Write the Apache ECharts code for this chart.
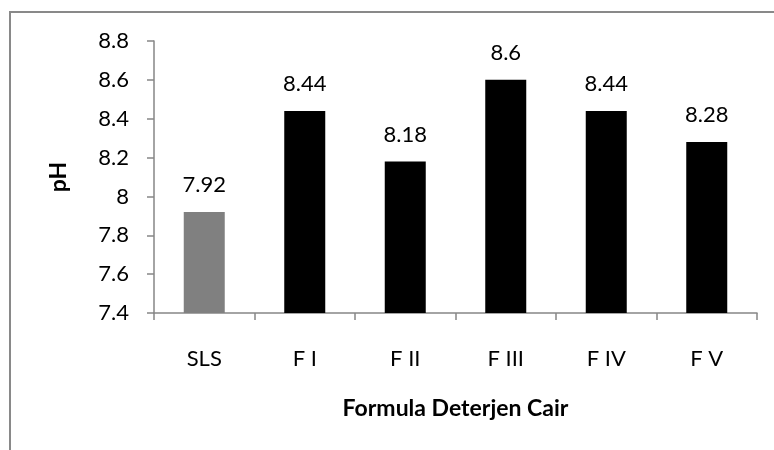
<!DOCTYPE html>
<html>
<head>
<meta charset="utf-8">
<script src="https://cdn.jsdelivr.net/npm/echarts@6/dist/echarts.min.js"></script>
<style>
html,body{margin:0;padding:0;background:#fff;}
#chart{width:774px;height:450px;}
</style>
</head>
<body>
<div id="chart"></div>
<script>
var categories = ['SLS', 'F I', 'F II', 'F III', 'F IV', 'F V'];
var phValues = [7.92, 8.44, 8.18, 8.6, 8.44, 8.28];
var barColors = ['#808080', '#000000', '#000000', '#000000', '#000000', '#000000'];
var yTitle = 'pH';
var xTitle = 'Formula Deterjen Cair';

var FONT = 'Lato, "Open Sans", sans-serif';
var chart = echarts.init(document.getElementById('chart'), null, {renderer: 'canvas'});
chart.setOption({
  backgroundColor: '#ffffff',
  animation: false,
  graphic: [{
    type: 'rect',
    shape: {x: 10, y: 12, width: 820, height: 500},
    style: {fill: 'none', stroke: '#898989', lineWidth: 2},
    silent: true
  }],
  grid: {left: 154, right: 17, top: 41, bottom: 137},
  xAxis: {
    type: 'category',
    data: categories,
    name: xTitle,
    nameLocation: 'middle',
    nameGap: 84,
    nameTextStyle: {fontFamily: FONT, fontSize: 23, fontWeight: 'bold', color: '#000'},
    axisLine: {lineStyle: {color: '#868686', width: 1.5}},
    axisTick: {show: true, length: 7, lineStyle: {color: '#868686', width: 1.5}},
    axisLabel: {fontFamily: FONT, fontSize: 22, color: '#000', margin: 35}
  },
  yAxis: {
    type: 'value',
    min: 7.4,
    max: 8.8,
    interval: 0.2,
    name: yTitle,
    nameLocation: 'middle',
    nameRotate: 90,
    nameGap: 84,
    nameTextStyle: {fontFamily: FONT, fontSize: 23, fontWeight: 'bold', color: '#000'},
    axisLine: {show: true, lineStyle: {color: '#868686', width: 1.5}},
    axisTick: {show: true, length: 7, lineStyle: {color: '#868686', width: 1.5}},
    splitLine: {show: false},
    axisLabel: {fontFamily: FONT, fontSize: 22, color: '#000', margin: 25,
      formatter: function (v) { return String(+v.toFixed(1)); }}
  },
  series: [{
    type: 'bar',
    barWidth: 41,
    data: phValues.map(function (v, i) {
      return {value: v, itemStyle: {color: barColors[i]}};
    }),
    label: {show: true, position: 'top', distance: 16, fontFamily: FONT, fontSize: 22, color: '#000'}
  }]
});
</script>
</body>
</html>
